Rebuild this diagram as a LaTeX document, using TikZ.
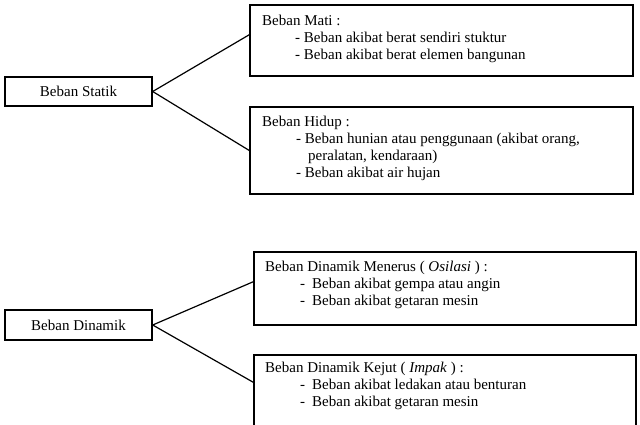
\documentclass[tikz,border=0pt]{standalone}
\usepackage{fontspec}
\setmainfont{Liberation Serif}
\begin{document}
\begin{tikzpicture}[x=1pt,y=-1pt,
  box/.style={draw=black,line width=1.4pt,rectangle,inner sep=0pt},
  conn/.style={draw=black,line width=1.2pt},
  txt/.style={anchor=base west,inner sep=0pt,font=\fontsize{15pt}{17pt}\selectfont},
  lbl/.style={font=\fontsize{15pt}{17pt}\selectfont}]
\useasboundingbox (0,0) rectangle (640,424);
\clip (0,0) rectangle (640,424);
% main boxes
\node[box,lbl,minimum width=147pt,minimum height=29pt] (statik) at (78.5,91.5) {Beban Statik};
\node[box,lbl,minimum width=147pt,minimum height=30pt] (dinamik) at (78.5,325) {Beban Dinamik};
% detail boxes
\node[box,minimum width=383pt,minimum height=71pt] (mati) at (441.5,40.5) {};
\node[box,minimum width=383pt,minimum height=87pt] (hidup) at (441.5,150.5) {};
\node[box,minimum width=382pt,minimum height=73pt] (menerus) at (445,288.5) {};
\node[box,minimum width=382pt,minimum height=85pt] (kejut) at (445,397.5) {};
% connectors
\draw[conn] (statik.east) -- ([yshift=5.8pt]mati.west);
\draw[conn] (statik.east) -- (hidup.west);
\draw[conn] (dinamik.east) -- ([yshift=6.8pt]menerus.west);
\draw[conn] (dinamik.east) -- ([yshift=-28pt]kejut.north west);
% texts: Beban Mati
\node[txt] (m1) at (262,25.7) {Beban Mati :};
\node[txt] (m2) at (295,42.5) {- Beban akibat berat sendiri stuktur};
\node[txt] (m3) at (295,59.5) {- Beban akibat berat elemen bangunan};
% Beban Hidup
\node[txt] (h1) at (262,126.7) {Beban Hidup :};
\node[txt] (h2) at (296,143.5) {- Beban hunian atau penggunaan (akibat orang,};
\node[txt] (h3) at (308,160.3) {peralatan, kendaraan)};
\node[txt] (h4) at (296,177) {- Beban akibat air hujan};
% Menerus
\node[txt] (d1) at (265,271.7) {Beban Dinamik Menerus ( \textit{Osilasi} ) :};
\node[txt] (d2) at (300,288.5) {-\hspace{7pt}Beban akibat gempa atau angin};
\node[txt] (d3) at (300,305.5) {-\hspace{7pt}Beban akibat getaran mesin};
% Kejut
\node[txt] (k1) at (265,372) {Beban Dinamik Kejut ( \textit{Impak} ) :};
\node[txt] (k2) at (300,389) {-\hspace{7pt}Beban akibat ledakan atau benturan};
\node[txt] (k3) at (300,406) {-\hspace{7pt}Beban akibat getaran mesin};
\end{tikzpicture}
\end{document}
